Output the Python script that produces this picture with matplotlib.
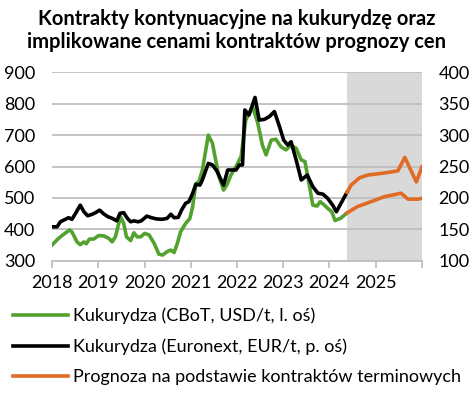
import matplotlib.pyplot as plt

plt.rcParams['font.family'] = ['Lato', 'DejaVu Sans']

# CBoT corn (left axis)
cbot_t = [2018.00, 2018.14, 2018.25, 2018.38, 2018.43, 2018.54, 2018.61, 2018.69, 2018.74, 2018.81,
          2018.90, 2019.01, 2019.12, 2019.23, 2019.30, 2019.37, 2019.48, 2019.55, 2019.61, 2019.70,
          2019.77, 2019.84, 2019.92, 2020.00, 2020.10, 2020.21, 2020.31, 2020.39, 2020.49, 2020.57,
          2020.64, 2020.71, 2020.78, 2020.89, 2020.98, 2021.04, 2021.11, 2021.18, 2021.25, 2021.38,
          2021.47, 2021.54, 2021.61, 2021.71, 2021.78, 2021.87, 2021.98, 2022.09, 2022.19, 2022.26,
          2022.34, 2022.45, 2022.55, 2022.63, 2022.74, 2022.84, 2022.95, 2023.06, 2023.17, 2023.28,
          2023.39, 2023.47, 2023.57, 2023.64, 2023.73, 2023.80, 2023.89, 2023.96, 2024.05, 2024.12,
          2024.24, 2024.38]
cbot = [350, 371, 384, 398, 392, 360, 351, 360, 354, 369,
        369, 380, 379, 371, 360, 376, 440, 419, 376, 364,
        389, 376, 376, 387, 382, 355, 321, 318, 329, 334,
        326, 355, 392, 419, 434, 471, 545, 553, 587, 700,
        674, 620, 568, 525, 541, 573, 600, 632, 748, 769,
        790, 738, 668, 637, 684, 687, 663, 653, 668, 658,
        621, 616, 536, 477, 474, 488, 477, 467, 456, 428,
        435, 452]

# Euronext corn (right axis)
enx_t = [2018.00, 2018.11, 2018.18, 2018.29, 2018.36, 2018.43, 2018.51, 2018.61, 2018.69, 2018.77,
         2018.87, 2018.94, 2019.03, 2019.12, 2019.21, 2019.30, 2019.40, 2019.47, 2019.55, 2019.63,
         2019.70, 2019.77, 2019.86, 2019.93, 2020.05, 2020.15, 2020.26, 2020.39, 2020.49, 2020.57,
         2020.64, 2020.73, 2020.80, 2020.89, 2020.96, 2021.04, 2021.11, 2021.20, 2021.25, 2021.38,
         2021.47, 2021.56, 2021.71, 2021.80, 2021.87, 2021.98, 2022.05, 2022.12, 2022.17, 2022.26,
         2022.39, 2022.48, 2022.59, 2022.70, 2022.81, 2022.92, 2023.01, 2023.10, 2023.17, 2023.28,
         2023.39, 2023.52, 2023.64, 2023.75, 2023.86, 2023.96, 2024.07, 2024.15, 2024.25, 2024.38]
enx = [154, 154, 162, 166, 168.5, 166, 175.5, 188.5, 178, 171.5,
       174, 176.5, 180.5, 174.5, 170, 167.5, 163.5, 175.5, 176.5, 167.5,
       162, 163.5, 162, 163.5, 171, 168.5, 166.5, 166, 167.5, 174,
       168.5, 169, 180.5, 191.5, 194, 207, 221.5, 220.5, 228.5, 255,
       252.5, 243.5, 220.5, 244.5, 244.5, 244.5, 252.5, 252.5, 340, 332,
       360, 324, 325, 329.5, 337.5, 313.5, 292, 284, 289.5, 260.5,
       228.5, 236.5, 218, 207.5, 206, 199.5, 188.5, 178, 191.5, 209]

# forecasts implied by futures
fc_enx_t = [2024.38, 2024.47, 2024.65, 2024.83, 2025.12, 2025.48, 2025.63, 2025.88, 2026.0]
fc_enx = [209, 220.5, 232, 236.5, 239, 243, 264.5, 225.5, 249.5]
fc_cbot_t = [2024.38, 2024.6, 2024.9, 2025.19, 2025.55, 2025.7, 2025.92, 2026.0]
fc_cbot = [452, 472, 488, 504, 515, 496, 496, 499]

years = list(range(2018, 2027))
year_labels = [str(y) for y in range(2018, 2026)] + ['']

green = '#53a22f'
orange = '#e06b25'
grid_c = '#bfbfbf'

fig = plt.figure(figsize=(4.73, 3.93), dpi=100)
ax = fig.add_axes([0.110, 0.3366, 0.782, 0.4794])
ax2 = ax.twinx()

ax.axvspan(2024.38, 2026, color='#d9d9d9', zorder=0.2, lw=0)
ax.set_axisbelow(True)
ax.grid(axis='y', color=grid_c, lw=1.3)

l1, = ax.plot(cbot_t, cbot, color=green, lw=2.6, label='Kukurydza (CBoT, USD/t, l. oś)')
ax.plot(fc_cbot_t, fc_cbot, color=orange, lw=2.6)
l2, = ax2.plot(enx_t, enx, color='black', lw=2.6, label='Kukurydza (Euronext, EUR/t, p. oś)')
l3, = ax2.plot(fc_enx_t, fc_enx, color=orange, lw=2.6, label='Prognoza na podstawie kontraktów terminowych')

ax.set_xlim(2018, 2026)
ax.set_ylim(300, 900)
ax2.set_ylim(100, 400)
ax.set_yticks(range(300, 901, 100))
ax2.set_yticks(range(100, 401, 50))
ax.set_xticks(years)
ax.set_xticklabels(year_labels)

for a in (ax, ax2):
    for s in a.spines.values():
        s.set_visible(False)
ax.spines['bottom'].set_visible(True)
ax.spines['bottom'].set_color(grid_c)
ax.spines['bottom'].set_linewidth(1.3)
ax.tick_params(axis='x', length=5, color=grid_c, width=1.3, labelsize=13, pad=5)
ax.tick_params(axis='y', length=0, labelsize=13, pad=12)
ax2.tick_params(axis='y', length=0, labelsize=13, pad=12)

fig.text(0.5, 0.977, 'Kontrakty kontynuacyjne na kukurydzę oraz\nimplikowane cenami kontraktów prognozy cen',
         ha='center', va='top', fontsize=14.5, fontweight='bold', linespacing=1.2)

fig.legend(handles=[l1, l2, l3], loc='upper left', bbox_to_anchor=(0.027, 0.218),
           frameon=False, fontsize=13, handlelength=3.05, handletextpad=0.3,
           labelspacing=0.8, borderaxespad=0, borderpad=0)

fig.savefig('out.png', dpi=100)
